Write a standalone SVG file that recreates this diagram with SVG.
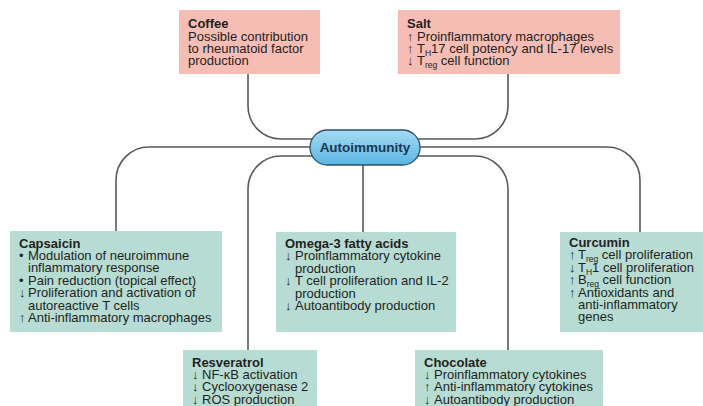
<svg xmlns="http://www.w3.org/2000/svg" width="703" height="406" viewBox="0 0 703 406">
<style>
.t{font-family:"Liberation Sans",Arial,sans-serif;font-size:13px;fill:#231f20}
.b{font-weight:bold}
.pink{fill:#f5bdb4}
.teal{fill:#b7dcd3}
.conn{fill:none;stroke:#555a5e;stroke-width:1.6}
.sub{font-size:8.5px}
.pilltxt{font-family:"Liberation Sans",Arial,sans-serif;font-size:13.5px;font-weight:bold;fill:#1c3650}
</style>
<defs>
<linearGradient id="pg" x1="0" y1="0" x2="0" y2="1">
<stop offset="0" stop-color="#a4dbf3"/>
<stop offset="1" stop-color="#5ab6e2"/>
</linearGradient>
</defs>
<rect width="703" height="406" fill="#ffffff"/>
<g id="connectors">
<path class="conn" d="M248,74 V106 A33,33 0 0 0 281,139 H315"/>
<path class="conn" d="M508,74 V106 A33,33 0 0 1 475,139 H415"/>
<path class="conn" d="M116,231 V180 A33,33 0 0 1 149,147 H315"/>
<path class="conn" d="M248,350 V189 A33,33 0 0 1 281,156 H315"/>
<path class="conn" d="M363,160 V232"/>
<path class="conn" d="M508,350 V189 A33,33 0 0 0 475,156 H415"/>
<path class="conn" d="M640,232 V180 A33,33 0 0 0 607,147 H415"/>
</g>
<g id="autoimmunity">
<rect x="310" y="130" width="110" height="35" rx="17.5" fill="url(#pg)" stroke="#2e4f66" stroke-width="1.3"/>
<text class="pilltxt" x="365" y="152" text-anchor="middle">Autoimmunity</text>
</g>
<g id="coffee">
<rect class="pink" x="179" y="10" width="141" height="64"/>
<text class="t"><tspan class="b" x="188" y="28">Coffee</tspan><tspan x="188" y="40.5">Possible contribution</tspan><tspan x="188" y="52.9">to rheumatoid factor</tspan><tspan x="188" y="65.3">production</tspan></text>
</g>
<g id="salt">
<rect class="pink" x="398" y="10" width="222" height="64"/>
<text class="t"><tspan class="b" x="407" y="28">Salt</tspan><tspan x="407" y="40.5">↑</tspan><tspan x="417" y="40.5">Proinflammatory macrophages</tspan><tspan x="407" y="52.9">↑</tspan><tspan x="417" y="52.9">T</tspan><tspan class="sub" y="55.9">H</tspan><tspan y="52.9">17 cell potency and IL-17 levels</tspan><tspan x="407" y="65.3">↓</tspan><tspan x="417" y="65.3">T</tspan><tspan class="sub" y="68.3">reg</tspan><tspan y="65.3"> cell function</tspan></text>
</g>
<g id="capsaicin">
<rect class="teal" x="10" y="231" width="212" height="101"/>
<text class="t"><tspan class="b" x="19" y="247.5">Capsaicin</tspan><tspan x="19" y="259.9">•</tspan><tspan x="28" y="259.9">Modulation of neuroimmune</tspan><tspan x="28" y="272.3">inflammatory response</tspan><tspan x="19" y="284.7">•</tspan><tspan x="28" y="284.7">Pain reduction (topical effect)</tspan><tspan x="19" y="297.1">↓</tspan><tspan x="28" y="297.1">Proliferation and activation of</tspan><tspan x="28" y="309.5">autoreactive T cells</tspan><tspan x="19" y="321.9">↑</tspan><tspan x="28" y="321.9">Anti-inflammatory macrophages</tspan></text>
</g>
<g id="omega3">
<rect class="teal" x="276" y="232" width="180" height="100"/>
<text class="t"><tspan class="b" x="285" y="248">Omega-3 fatty acids</tspan><tspan x="285" y="260.4">↓</tspan><tspan x="295" y="260.4">Proinflammatory cytokine</tspan><tspan x="295" y="272.8">production</tspan><tspan x="285" y="285.2">↓</tspan><tspan x="295" y="285.2">T cell proliferation and IL-2</tspan><tspan x="295" y="297.6">production</tspan><tspan x="285" y="310">↓</tspan><tspan x="295" y="310">Autoantibody production</tspan></text>
</g>
<g id="curcumin">
<rect class="teal" x="560" y="232" width="143" height="100"/>
<text class="t"><tspan class="b" x="569" y="247">Curcumin</tspan><tspan x="569" y="259.4">↑</tspan><tspan x="578" y="259.4">T</tspan><tspan class="sub" y="262.4">reg</tspan><tspan y="259.4"> cell proliferation</tspan><tspan x="569" y="271.8">↓</tspan><tspan x="578" y="271.8">T</tspan><tspan class="sub" y="274.8">H</tspan><tspan y="271.8">1 cell proliferation</tspan><tspan x="569" y="284.2">↑</tspan><tspan x="578" y="284.2">B</tspan><tspan class="sub" y="287.2">reg</tspan><tspan y="284.2"> cell function</tspan><tspan x="569" y="296.6">↑</tspan><tspan x="578" y="296.6">Antioxidants and</tspan><tspan x="578" y="309">anti-inflammatory</tspan><tspan x="578" y="321.4">genes</tspan></text>
</g>
<g id="resveratrol">
<rect class="teal" x="183" y="350" width="134" height="60"/>
<text class="t"><tspan class="b" x="192" y="366.5">Resveratrol</tspan><tspan x="192" y="378.9">↓</tspan><tspan x="202" y="378.9">NF-κB activation</tspan><tspan x="192" y="391.3">↓</tspan><tspan x="202" y="391.3">Cyclooxygenase 2</tspan><tspan x="192" y="403.7">↓</tspan><tspan x="202" y="403.7">ROS production</tspan></text>
</g>
<g id="chocolate">
<rect class="teal" x="415" y="350" width="188" height="60"/>
<text class="t"><tspan class="b" x="424" y="366.5">Chocolate</tspan><tspan x="424" y="378.9">↓</tspan><tspan x="434" y="378.9">Proinflammatory cytokines</tspan><tspan x="424" y="391.3">↑</tspan><tspan x="434" y="391.3">Anti-inflammatory cytokines</tspan><tspan x="424" y="403.7">↓</tspan><tspan x="434" y="403.7">Autoantibody production</tspan></text>
</g>
</svg>
